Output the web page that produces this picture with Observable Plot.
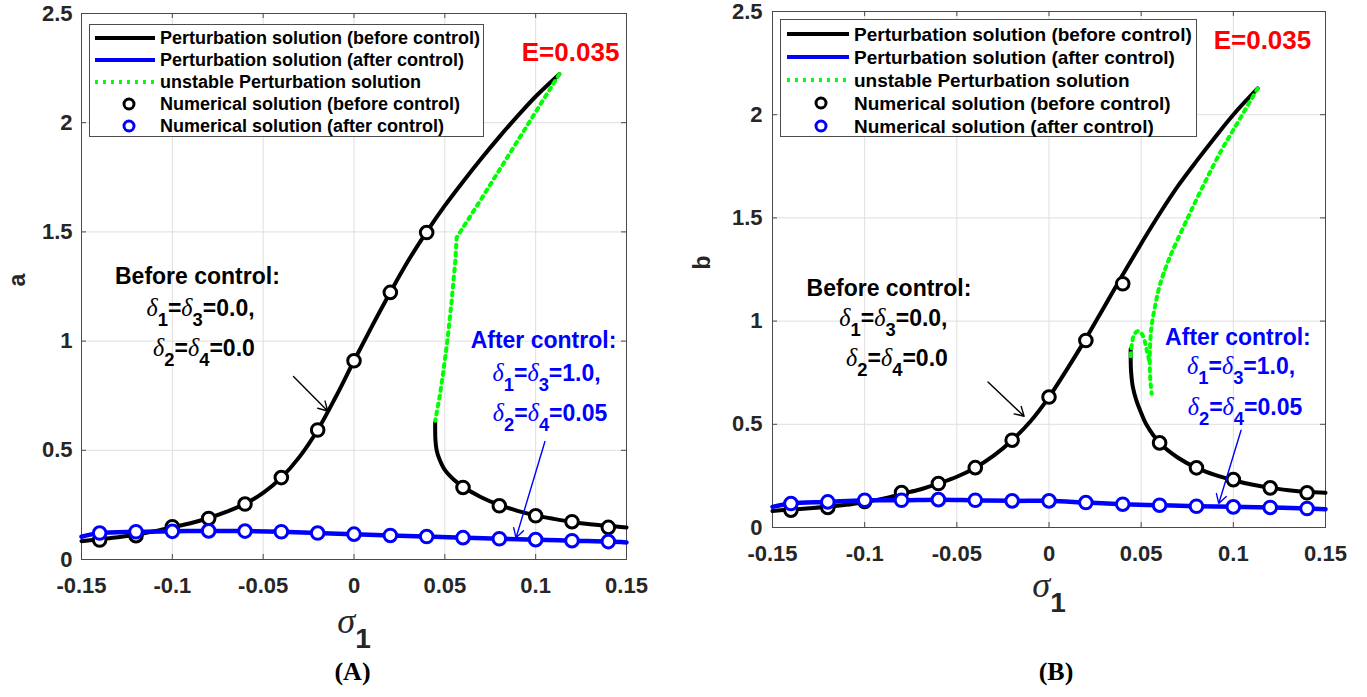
<!DOCTYPE html>
<html><head><meta charset="utf-8">
<script src="https://cdn.jsdelivr.net/npm/d3@7"></script>
<script src="https://cdn.jsdelivr.net/npm/@observablehq/plot@0.6"></script>
<style>
html,body{margin:0;padding:0;background:#fff;overflow:hidden}
#wrap{position:relative;width:1367px;height:697px;background:#fff}
</style></head><body><div id="wrap"></div>
<script>
// ---------- shared ticks ----------
const xTicks = [-0.15, -0.1, -0.05, 0, 0.05, 0.1, 0.15];
const yTicks = [0, 0.5, 1, 1.5, 2, 2.5];
const numSigma = [-0.14,-0.12,-0.10,-0.08,-0.06,-0.04,-0.02,0,0.02,0.04,0.06,0.08,0.10,0.12,0.14];

// ---------- Panel A (amplitude a) ----------
const sigA_before = [-0.15,-0.14,-0.13,-0.12,-0.11,-0.10,-0.09,-0.08,-0.07,-0.06,-0.05,-0.04,-0.03,-0.02,-0.01,0,0.01,0.02,0.03,0.04,0.05,0.06,0.07,0.08,0.09,0.10,0.1130];
const aA_before   = [0.084,0.093,0.102,0.113,0.129,0.148,0.166,0.19,0.219,0.255,0.305,0.375,0.47,0.593,0.745,0.91,1.07,1.224,1.37,1.5,1.62,1.73,1.835,1.935,2.03,2.12,2.222];
const sigA_unstable = [0.1130,0.10,0.09,0.08,0.07,0.0565,0.0558,0.0537,0.0514,0.049,0.0473,0.0447];
const aA_unstable   = [2.222,2.049,1.916,1.783,1.65,1.474,1.37,1.18,1.0,0.85,0.754,0.635];
const sigA_lower = [0.0447,0.0448,0.0455,0.047,0.05,0.055,0.06,0.07,0.08,0.09,0.10,0.11,0.12,0.13,0.14,0.15];
const aA_lower   = [0.63,0.55,0.5,0.46,0.41,0.365,0.333,0.285,0.25,0.223,0.202,0.186,0.172,0.161,0.153,0.147];
const sigA_after = [-0.15,-0.14,-0.12,-0.10,-0.08,-0.06,-0.04,-0.02,0,0.02,0.04,0.06,0.08,0.10,0.12,0.14,0.15];
const aA_after   = [0.104,0.121,0.127,0.129,0.131,0.130,0.127,0.121,0.116,0.110,0.105,0.100,0.095,0.091,0.086,0.082,0.078];
const aA_numBefore = [0.089,0.109,0.15,0.188,0.254,0.375,0.593,0.91,1.223,1.497,0.33,0.246,0.2,0.173,0.147];
const aA_numAfter  = [0.121,0.127,0.129,0.131,0.130,0.127,0.121,0.116,0.110,0.105,0.100,0.095,0.091,0.086,0.082];

// ---------- Panel B (amplitude b) ----------
const sigB_before = [-0.15,-0.14,-0.13,-0.12,-0.11,-0.10,-0.09,-0.08,-0.07,-0.06,-0.05,-0.04,-0.03,-0.02,-0.01,0,0.01,0.02,0.03,0.04,0.05,0.06,0.07,0.08,0.09,0.10,0.1132];
const bB_before   = [0.08,0.087,0.093,0.1,0.11,0.124,0.14,0.163,0.184,0.213,0.246,0.29,0.348,0.423,0.515,0.632,0.77,0.915,1.07,1.225,1.375,1.52,1.655,1.775,1.89,2.0,2.127];
const sigB_unstable = [0.1132,0.10,0.0935,0.085,0.075,0.0651,0.06,0.0575,0.0557,0.0548,0.0547,0.0552,0.0557];
const bB_unstable   = [2.127,1.926,1.827,1.68,1.495,1.3,1.17,1.07,0.979,0.874,0.76,0.69,0.648];
const sigB_hook = [0.0443,0.0450,0.0462,0.0484,0.0506,0.052,0.053,0.0543];
const bB_hook   = [0.83,0.89,0.935,0.952,0.935,0.9,0.86,0.81];
const sigB_lower = [0.0443,0.0445,0.0455,0.0474,0.05,0.0526,0.06,0.07,0.08,0.09,0.10,0.11,0.12,0.13,0.14,0.15];
const bB_lower   = [0.865,0.76,0.68,0.616,0.555,0.503,0.41,0.338,0.289,0.255,0.229,0.208,0.192,0.181,0.173,0.168];
const sigB_after = [-0.15,-0.14,-0.12,-0.10,-0.08,-0.06,-0.04,-0.02,0,0.02,0.04,0.06,0.08,0.10,0.12,0.14,0.15];
const bB_after   = [0.1,0.116,0.124,0.132,0.132,0.135,0.132,0.129,0.129,0.121,0.113,0.108,0.103,0.1,0.097,0.092,0.089];
const bB_numBefore = [0.084,0.097,0.126,0.169,0.213,0.29,0.423,0.632,0.906,1.181,0.41,0.289,0.232,0.192,0.168];
const bB_numAfter  = [0.116,0.124,0.132,0.132,0.135,0.132,0.129,0.129,0.121,0.113,0.108,0.103,0.1,0.097,0.092];

// ---------- texts ----------
const legendLabels = ["Perturbation solution (before control)","Perturbation solution (after control)","unstable Perturbation solution","Numerical solution (before control)","Numerical solution (after control)"];
const caseLabel = "E=0.035";
const beforeLines = ["Before control:","δ{1}=δ{3}=0.0,","δ{2}=δ{4}=0.0"];
const afterLines  = ["After control:","δ{1}=δ{3}=1.0,","δ{2}=δ{4}=0.05"];
const xLabel = "σ{1}";

const FONT = '"Liberation Sans", Arial, Helvetica, sans-serif';
const GRID = "#dfdfdf", AX = "#4a4a4a", BLUE = "#0000ff", GREEN = "#00ff00", RED = "#ff0000";
const DASH = "3,5";

const pts = (xs, ys, z) => xs.map((x, i) => ({x, y: ys[i], z}));

function panel(c) {
  const fh = c.height - c.marginTop - c.marginBottom;
  const fw = c.width - c.marginLeft - c.marginRight;
  const txt = (s, o) => Plot.text([s], {fontFamily: FONT, fontWeight: "bold", ...o});
  return Plot.plot({
    width: c.width, height: c.height,
    marginLeft: c.marginLeft, marginRight: c.marginRight, marginTop: c.marginTop, marginBottom: c.marginBottom,
    x: {type: "linear", domain: [-0.15, 0.15]},
    y: {type: "linear", domain: [0, 2.5]},
    style: {fontFamily: FONT, background: "transparent", overflow: "visible"},
    marks: [
      Plot.gridX(xTicks, {stroke: GRID, strokeOpacity: 1, strokeWidth: 1}),
      Plot.gridY(yTicks, {stroke: GRID, strokeOpacity: 1, strokeWidth: 1}),
      Plot.ruleX(xTicks, {stroke: AX, insetTop: fh - 5}),
      Plot.ruleX(xTicks, {stroke: AX, insetBottom: fh - 5}),
      Plot.ruleY(yTicks, {stroke: AX, insetRight: fw - 5}),
      Plot.ruleY(yTicks, {stroke: AX, insetLeft: fw - 5}),
      Plot.frame({stroke: AX, strokeWidth: 1}),
      Plot.axisX(xTicks, {tickSize: 0, tickPadding: 18, fontSize: 22, fontWeight: "bold", fill: "#262626", tickFormat: d => String(d), label: null}),
      Plot.axisY(yTicks, {tickSize: 0, tickPadding: c.yPad, fontSize: 22, fontWeight: "bold", fill: "#262626", tickFormat: d => String(d), label: null}),
      Plot.line(c.before, {x: "x", y: "y", stroke: "black", strokeWidth: 4, curve: "catmull-rom"}),
      Plot.line(c.lower, {x: "x", y: "y", stroke: "black", strokeWidth: 4, curve: "catmull-rom"}),
      Plot.line(c.unstable, {x: "x", y: "y", z: "z", stroke: GREEN, strokeWidth: 4, strokeDasharray: DASH, curve: c.greenCurve}),
      Plot.dot(c.numBefore, {x: "x", y: "y", r: 6.3, stroke: "black", strokeWidth: 3, fill: "white"}),
      Plot.line(c.after, {x: "x", y: "y", stroke: BLUE, strokeWidth: 4.5, curve: "catmull-rom"}),
      Plot.dot(c.numAfter, {x: "x", y: "y", r: 6.3, stroke: BLUE, strokeWidth: 3, fill: "white"}),
      Plot.arrow([0], {x1: c.arrB[0], y1: c.arrB[1], x2: c.arrB[2], y2: c.arrB[3], stroke: "black", strokeWidth: 1.4, headLength: 11, bend: 0}),
      Plot.arrow([0], {x1: c.arrA[0], y1: c.arrA[1], x2: c.arrA[2], y2: c.arrA[3], stroke: BLUE, strokeWidth: 1.4, headLength: 11, bend: 0}),
      txt(caseLabel, {x: c.eAt[0], y: c.eAt[1], fill: RED, fontSize: 26}),
      txt(beforeLines[0], {x: c.bAt[0][0], y: c.bAt[0][1], fill: "black", fontSize: 23}),
      txt(beforeLines[1], {x: c.bAt[1][0], y: c.bAt[1][1], fill: "black", fontSize: 23}),
      txt(beforeLines[2], {x: c.bAt[2][0], y: c.bAt[2][1], fill: "black", fontSize: 23}),
      txt(afterLines[0], {x: c.aAt[0][0], y: c.aAt[0][1], fill: BLUE, fontSize: 23}),
      txt(afterLines[1], {x: c.aAt[1][0], y: c.aAt[1][1], fill: BLUE, fontSize: 23}),
      txt(afterLines[2], {x: c.aAt[2][0], y: c.aAt[2][1], fill: BLUE, fontSize: 23}),
      txt(c.yLabel, {frameAnchor: "left", dx: c.yLabDx, rotate: -90, fontSize: 23, fill: "#262626"}),
      txt(xLabel, {frameAnchor: "bottom", dy: c.xLabDy, fontSize: 28, fill: "#262626"}),
      Plot.text([c.caption], {frameAnchor: "bottom", dx: c.capDx, dy: c.capDy, fontFamily: '"Liberation Serif", "Times New Roman", serif', fontWeight: "bold", fontSize: 26, fill: "black"})
    ]
  });
}

function richify(svg) {
  svg.querySelectorAll("text").forEach(t => {
    const s = t.textContent;
    if (!/[δσ{]/.test(s)) return;
    const fs = parseFloat(getComputedStyle(t).fontSize);
    const big = s.startsWith("σ");
    t.textContent = "";
    let shift = 0, m;
    const re = /([δσ])|\{(\d+)\}|([^δσ{]+)/g;
    while ((m = re.exec(s))) {
      const ts = document.createElementNS("http://www.w3.org/2000/svg", "tspan");
      if (m[1]) {
        ts.textContent = m[1];
        ts.setAttribute("font-family", '"Liberation Serif", "DejaVu Serif", serif');
        ts.setAttribute("font-style", "italic");
        ts.setAttribute("font-weight", "normal");
        ts.setAttribute("font-size", big ? fs * 1.3 : fs * 1.05);
        if (shift) { ts.setAttribute("dy", -shift); shift = 0; }
      } else if (m[2]) {
        ts.textContent = m[2];
        const d = big ? 15 : fs * 0.45;
        ts.setAttribute("font-size", big ? fs : fs * 0.8);
        ts.setAttribute("dy", d - shift); shift = d;
      } else {
        ts.textContent = m[3];
        if (shift) { ts.setAttribute("dy", -shift); shift = 0; }
      }
      t.appendChild(ts);
    }
  });
}

function legend(parent, o) {
  const svg = d3.select(parent).append("svg")
    .attr("width", o.width).attr("height", o.height)
    .style("position", "absolute").style("left", o.left + "px").style("top", o.top + "px");
  svg.append("rect").attr("x", 0.5).attr("y", 0.5).attr("width", o.width - 1).attr("height", o.height - 1)
    .attr("fill", "white").attr("stroke", "#4d4d4d");
  const styles = [
    {kind: "line", color: "black"}, {kind: "line", color: BLUE},
    {kind: "dash", color: GREEN}, {kind: "dot", color: "black"}, {kind: "dot", color: BLUE}
  ];
  legendLabels.forEach((lab, i) => {
    const y = o.row0 + i * o.rowDy, st = styles[i];
    if (st.kind === "dot") {
      svg.append("circle").attr("cx", o.markX).attr("cy", y).attr("r", 5)
        .attr("fill", "white").attr("stroke", st.color).attr("stroke-width", 3);
    } else {
      svg.append("line").attr("x1", o.lx0).attr("x2", o.lx1).attr("y1", y).attr("y2", y)
        .attr("stroke", st.color).attr("stroke-width", 4)
        .attr("stroke-dasharray", st.kind === "dash" ? DASH : null);
    }
    svg.append("text").attr("x", o.textX).attr("y", y).attr("dy", "0.35em")
      .attr("font-family", FONT).attr("font-weight", "bold").attr("font-size", o.fontSize)
      .attr("fill", "black").text(lab);
  });
}

const wrap = document.getElementById("wrap");

const svgA = panel({
  width: 690, height: 697, marginLeft: 81, marginRight: 64, marginTop: 13, marginBottom: 138, yPad: 9,
  before: pts(sigA_before, aA_before), lower: pts(sigA_lower, aA_lower),
  unstable: pts(sigA_unstable, aA_unstable, 0), greenCurve: "linear",
  after: pts(sigA_after, aA_after),
  numBefore: pts(numSigma, aA_numBefore), numAfter: pts(numSigma, aA_numAfter),
  arrB: [-0.0333, 0.838, -0.0145, 0.68], arrA: [0.1051, 0.54, 0.0892, 0.0994],
  eAt: [0.1192, 2.321],
  bAt: [[-0.0862, 1.296], [-0.0845, 1.149], [-0.0826, 0.966]],
  aAt: [[0.1043, 1.003], [0.106, 0.852], [0.1079, 0.668]],
  yLabel: "a", yLabDx: -64, xLabDy: 73, caption: "(A)", capDx: -1.5, capDy: 120
});
svgA.style.position = "absolute"; svgA.style.left = "0px"; svgA.style.top = "0px";
wrap.appendChild(svgA);

const svgB = panel({
  width: 677, height: 697, marginLeft: 82, marginRight: 42, marginTop: 11, marginBottom: 170, yPad: 10,
  before: pts(sigB_before, bB_before), lower: pts(sigB_lower, bB_lower),
  unstable: pts(sigB_unstable, bB_unstable, 0).concat(pts(sigB_hook, bB_hook, 1)), greenCurve: "catmull-rom",
  after: pts(sigB_after, bB_after),
  numBefore: pts(numSigma, bB_numBefore), numAfter: pts(numSigma, bB_numAfter),
  arrB: [-0.0331, 0.705, -0.0135, 0.539], arrA: [0.1042, 0.471, 0.0921, 0.116],
  eAt: [0.1158, 2.36],
  bAt: [[-0.0868, 1.158], [-0.0844, 1.013], [-0.0825, 0.819]],
  aAt: [[0.1025, 0.921], [0.1042, 0.78], [0.1063, 0.581]],
  yLabel: "b", yLabDx: -70, xLabDy: 69, caption: "(B)", capDx: 7, capDy: 152
});
svgB.style.position = "absolute"; svgB.style.left = "690px"; svgB.style.top = "0px";
wrap.appendChild(svgB);

richify(svgA); richify(svgB);

legend(wrap, {left: 89, top: 24, width: 395, height: 113, row0: 14, rowDy: 22, lx0: 6, lx1: 66, markX: 40, textX: 71, fontSize: 18});
legend(wrap, {left: 780, top: 19, width: 417, height: 118, row0: 15, rowDy: 23, lx0: 7, lx1: 69, markX: 41, textX: 74, fontSize: 19});
</script>
</body></html>
